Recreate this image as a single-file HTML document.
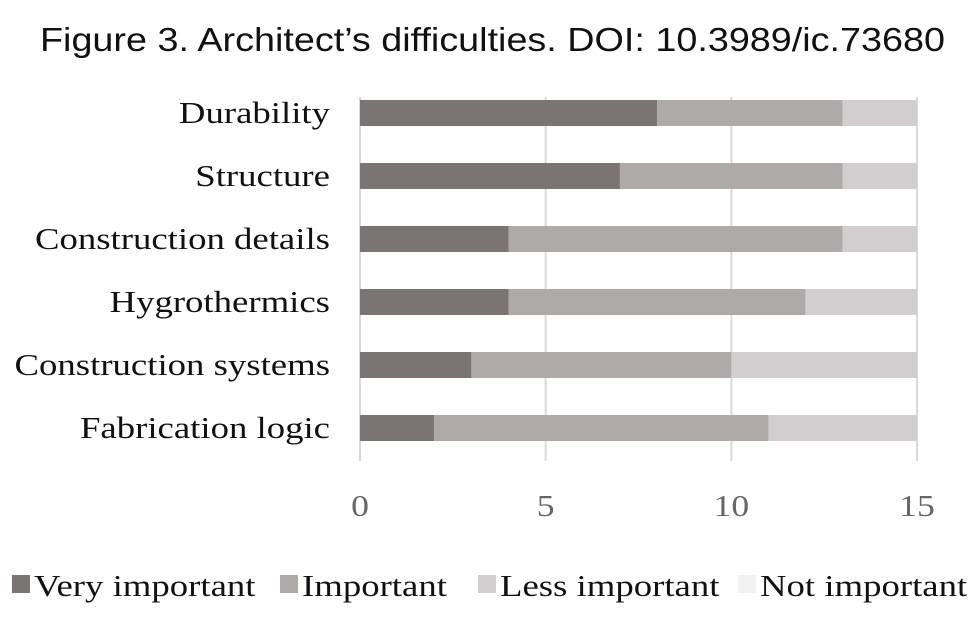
<!DOCTYPE html>
<html><head><meta charset="utf-8"><style>
body{margin:0;background:#fff;width:980px;height:612px;overflow:hidden}
svg text{font-family:"Liberation Serif",serif}
</style></head><body>
<svg width="980" height="612">
<text id="title" x="40" y="51" font-size="33" fill="#111" textLength="905" lengthAdjust="spacingAndGlyphs" style="font-family:'Liberation Sans',sans-serif">Figure 3. Architect’s difficulties. DOI: 10.3989/ic.73680</text>
<g id="grid"></g><g id="bars"></g><g id="labels"></g><g id="ticks"></g><g id="legend"></g>
</svg>
<script>
const categories=["Durability","Structure","Construction details","Hygrothermics","Construction systems","Fabrication logic"];
const veryImportant=[8,7,4,4,3,2];
const important=[5,6,9,8,7,9];
const lessImportant=[2,2,2,3,5,4];
const notImportant=[0,0,0,0,0,0];
const tickValues=[0,5,10,15];
const seriesNames=["Very important","Important","Less important","Not important"];
const colors=["#7a7474","#aeaaaa","#d0cecf","#f2f2f2"];
const NS="http://www.w3.org/2000/svg";
const x=v=>360+v*(557/15);
const yc=i=>113+i*63;
const WIDEN=1.225;
function mk(t,a,p){const e=document.createElementNS(NS,t);for(const k in a)e.setAttribute(k,a[k]);p.appendChild(e);return e;}
function widen(t,f){const w=t.getComputedTextLength();t.setAttribute('textLength',w*f);t.setAttribute('lengthAdjust','spacingAndGlyphs');}
const grid=document.getElementById('grid');
tickValues.forEach(v=>{const l=mk('line',{x1:x(v),x2:x(v),y1:97,y2:461,stroke:'#d9d9d9','stroke-width':2},grid);


const t=mk('text',{x:x(v),y:516,'text-anchor':'middle','font-size':31,fill:'#666'},document.getElementById('ticks'));
t.textContent=v;


widen(t,1.15);});
const series=[veryImportant,important,lessImportant,notImportant];
categories.forEach((c,i)=>{let acc=0;
series.forEach((s,j)=>{const v=s[i];if(v>0){const r=mk('rect',{x:x(acc),y:yc(i)-13,width:x(acc+v)-x(acc),height:26,fill:colors[j]},document.getElementById('bars'));

}acc+=v;});
const t=mk('text',{x:330,y:yc(i)+10,'text-anchor':'end','font-size':31,fill:'#111'},document.getElementById('labels'));
t.textContent=c;


widen(t,WIDEN*30/31);});
const lg=document.getElementById('legend');
const lx=[12,280,478,738];
seriesNames.forEach((n,j)=>{const r=mk('rect',{x:lx[j],y:575,width:18,height:18,fill:colors[j]},lg);


const t=mk('text',{x:lx[j]+22,y:596,'font-size':31,fill:'#111'},lg);
t.textContent=n;


widen(t,WIDEN*30/31);});
</script>
</body></html>
